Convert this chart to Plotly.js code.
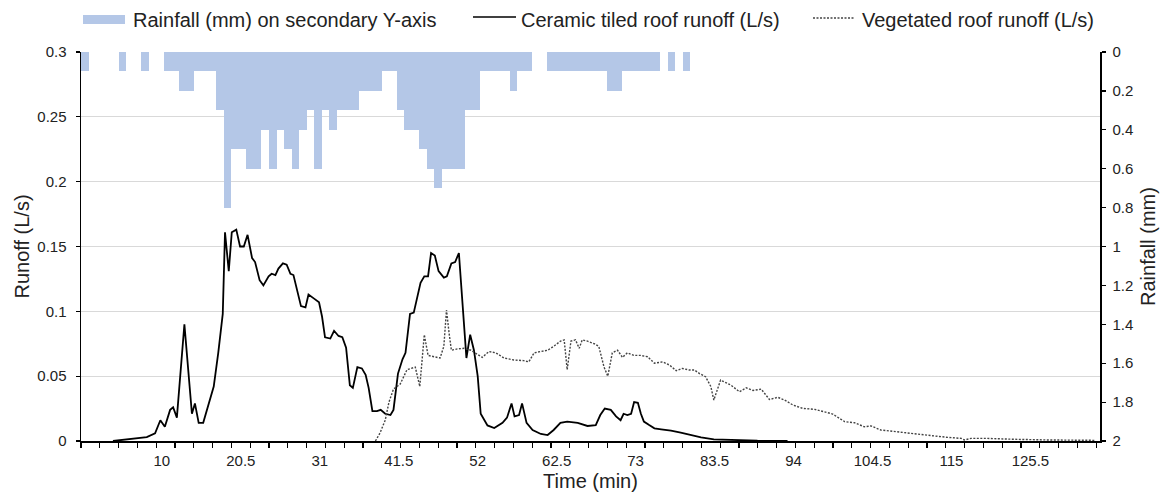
<!DOCTYPE html>
<html>
<head>
<meta charset="utf-8">
<script src="https://cdn.plot.ly/plotly-3.0.1.min.js"></script>
<style>
html,body{margin:0;padding:0;background:#fff;}
#chart{width:1167px;height:492px;}
</style>
</head>
<body>
<div id="chart"></div>
<script>
// Rainfall per minute (mm), minute index 0..80
var rainMinute = [];
for (var i = 0; i <= 80; i++) rainMinute.push(i);
var rainMm = [0.1,0,0,0,0,0.1,0,0,0.1,0,
              0,0.1,0.1,0.2,0.2,0.1,0.1,0.1,0.3,0.8,
              0.5,0.5,0.6,0.6,0.4,0.6,0.4,0.5,0.6,0.4,
              0.3,0.6,0.3,0.4,0.3,0.3,0.3,0.2,0.2,0.2,
              0.1,0.1,0.3,0.4,0.4,0.5,0.6,0.7,0.6,0.6,
              0.6,0.3,0.3,0.1,0.1,0.1,0.1,0.2,0.1,0.1,
              0,0,0.1,0.1,0.1,0.1,0.1,0.1,0.1,0.1,
              0.2,0.2,0.1,0.1,0.1,0.1,0.1,0,0.1,0,
              0.1];

// Ceramic tiled roof runoff (L/s)
var ceramicTime = [3.5,5.3,7.0,8.0,9.1,9.8,10.4,11.1,11.5,12.0,13.0,14.0,14.4,14.9,15.5,16.2,16.9,17.5,18.1,18.4,18.9,19.3,19.9,20.4,20.9,21.4,22.0,22.4,23.0,23.5,24.2,24.6,25.1,25.5,26.1,26.6,27.1,27.5,28.0,28.5,29.1,29.5,30.2,30.9,31.3,31.7,32.4,32.9,33.5,34.0,34.5,35.0,35.4,36.0,36.6,37.1,37.5,38.0,38.6,39.1,39.7,40.4,40.8,41.4,42.0,42.4,43.0,43.5,44.4,44.9,45.4,45.8,46.3,46.8,47.5,47.9,48.5,49.0,49.5,49.9,50.5,51.0,51.5,52.0,52.4,53.3,54.2,55.3,55.9,56.5,56.9,57.5,57.9,58.5,59.3,60.4,61.3,62.1,63.0,63.9,65.3,66.6,67.7,68.3,68.9,69.7,70.4,71.0,71.4,71.9,72.4,72.8,73.3,73.7,74.1,74.8,75.5,76.4,77.7,79.0,80.3,81.7,83.4,85.7,89.2,93.2];
var ceramicRunoff = [0,0.001,0.002,0.003,0.006,0.016,0.011,0.024,0.026,0.018,0.090,0.021,0.029,0.014,0.014,0.029,0.042,0.068,0.098,0.161,0.131,0.161,0.163,0.150,0.150,0.159,0.141,0.138,0.124,0.120,0.127,0.129,0.128,0.133,0.137,0.136,0.129,0.128,0.116,0.104,0.103,0.113,0.110,0.107,0.096,0.080,0.079,0.085,0.081,0.080,0.072,0.043,0.041,0.057,0.056,0.051,0.041,0.023,0.023,0.024,0.021,0.020,0.024,0.052,0.063,0.068,0.098,0.099,0.122,0.127,0.127,0.145,0.143,0.131,0.126,0.127,0.137,0.138,0.145,0.114,0.064,0.082,0.070,0.050,0.021,0.012,0.010,0.014,0.018,0.029,0.019,0.020,0.029,0.014,0.0085,0.0054,0.0046,0.0085,0.014,0.015,0.014,0.0116,0.0123,0.020,0.025,0.024,0.019,0.016,0.021,0.020,0.021,0.030,0.0295,0.021,0.015,0.0123,0.0098,0.009,0.008,0.0064,0.0046,0.0028,0.0013,0.0008,0.0002,0];

// Vegetated roof runoff (L/s)
var vegTime = [38.4,39.0,39.7,40.2,40.8,41.7,42.6,43.7,44.3,44.9,45.4,46.2,47.0,47.5,47.85,48.2,48.5,49.3,50.2,51.1,51.7,52.6,53.5,54.4,55.5,56.8,58.1,58.8,59.5,60.4,61.3,62.1,63.0,63.5,63.9,64.4,65.0,65.5,65.9,66.6,67.5,68.1,68.8,69.3,69.9,70.6,71.25,71.9,72.8,73.7,74.6,75.5,76.6,77.5,78.4,79.2,80.1,80.8,81.5,82.3,83.0,83.4,84.3,85.7,86.8,87.7,88.6,89.7,90.8,91.9,92.8,93.9,95.2,96.8,98.1,99.2,100.8,102.1,103.4,104.3,105.6,107.4,109.2,111.0,112.7,114.5,116.3,116.7,117.6,119.8,121.5,123.4,127.8,134.0];
var vegRunoff = [0,0.006,0.016,0.030,0.040,0.044,0.055,0.057,0.042,0.082,0.066,0.065,0.064,0.073,0.101,0.083,0.070,0.071,0.0715,0.070,0.068,0.0645,0.069,0.068,0.064,0.0625,0.062,0.061,0.068,0.069,0.070,0.073,0.077,0.078,0.055,0.077,0.078,0.0715,0.078,0.077,0.075,0.073,0.057,0.050,0.068,0.070,0.0645,0.068,0.066,0.066,0.065,0.060,0.061,0.0586,0.0542,0.056,0.0548,0.0548,0.052,0.0496,0.042,0.0316,0.047,0.043,0.038,0.041,0.039,0.040,0.032,0.0337,0.0316,0.0278,0.0252,0.0244,0.0226,0.0208,0.0149,0.0141,0.011,0.0116,0.0085,0.0072,0.0059,0.0046,0.0039,0.0028,0.002,0.0008,0.002,0.002,0.0015,0.0013,0.0008,0.0005];

var timeTickVals = [10,20.5,31,41.5,52,62.5,73,83.5,94,104.5,115,125.5];
var timeTickText = ['10','20.5','31','41.5','52','62.5','73','83.5','94','104.5','115','125.5'];

var legendNames = ['Rainfall (mm) on secondary Y-axis','Ceramic tiled roof runoff (L/s)','Vegetated roof runoff (L/s)'];

var FONT = 'Arial, "Liberation Sans", sans-serif';
var RAIN_COLOR = '#b4c7e7';
var VEG_COLOR = '#444444';
var VEG_DASH = '2px,1.5px';

// plot geometry (pixels)
var W = 1167, H = 492, L = 81, R = 67, T = 52, B = 51;
var pw = W - L - R, ph = H - T - B;
function px2x(px){ return (px - L) / pw; }
function py2y(py){ return (H - B - py) / ph; }

var traces = [
  {type:'bar', x: rainMinute, y: rainMm, yaxis:'y2', width:1, offset:-0.75,
   marker:{color:RAIN_COLOR, line:{width:0}}, name:legendNames[0], showlegend:false, hoverinfo:'skip'},
  {type:'scatter', mode:'lines', x: ceramicTime, y: ceramicRunoff,
   line:{color:'#000', width:1.8}, name:legendNames[1], showlegend:false},
  {type:'scatter', mode:'lines', x: vegTime, y: vegRunoff,
   line:{color:VEG_COLOR, width:1.4, dash:VEG_DASH}, name:legendNames[2], showlegend:false}
];

var shapes = [
  {type:'rect', xref:'paper', yref:'paper', x0:px2x(83), x1:px2x(125), y0:py2y(24), y1:py2y(15),
   fillcolor:RAIN_COLOR, line:{width:0}},
  {type:'line', xref:'paper', yref:'paper', x0:px2x(473), x1:px2x(516), y0:py2y(17), y1:py2y(17),
   line:{color:'#000', width:1.5}},
  {type:'line', xref:'paper', yref:'paper', x0:px2x(813), x1:px2x(855), y0:py2y(18), y1:py2y(18),
   line:{color:VEG_COLOR, width:1.4, dash:VEG_DASH}}
];
var annotations = [
  {xref:'paper', yref:'paper', x:px2x(131), y:py2y(20), text:legendNames[0], showarrow:false, xanchor:'left', yanchor:'middle', font:{family:FONT, size:20, color:'#222'}},
  {xref:'paper', yref:'paper', x:px2x(519), y:py2y(20), text:legendNames[1], showarrow:false, xanchor:'left', yanchor:'middle', font:{family:FONT, size:20, color:'#222'}},
  {xref:'paper', yref:'paper', x:px2x(860), y:py2y(20), text:legendNames[2], showarrow:false, xanchor:'left', yanchor:'middle', font:{family:FONT, size:20, color:'#222'}}
];

var layout = {
  width: W, height: H,
  margin:{l:L, r:R, t:T, b:B, pad:0},
  paper_bgcolor:'#fff', plot_bgcolor:'#fff',
  font:{family:FONT, color:'#222', size:15},
  showlegend:false,
  bargap:0,
  xaxis:{
    range:[-0.75, 134.75],
    tickmode:'array', tickvals:timeTickVals, ticktext:timeTickText,
    ticks:'', showgrid:false, zeroline:false,
    showline:true, linecolor:'#000', linewidth:1.5,
    tickfont:{size:15, color:'#222'}, ticklabelstandoff:5,
    minor:{tickmode:'linear', tick0:-0.75, dtick:2.5, ticks:'outside', ticklen:5, tickwidth:1.2, tickcolor:'#000', showgrid:false},
    title:{text:'Time (min)', font:{size:20, color:'#222'}, standoff:6}
  },
  yaxis:{
    range:[0, 0.3], dtick:0.05, tick0:0,
    showgrid:true, gridcolor:'#d9d9d9', gridwidth:1,
    zeroline:false, showline:true, linecolor:'#000', linewidth:1.5,
    ticks:'outside', ticklen:4, tickcolor:'#000', tickwidth:1.2,
    tickfont:{size:15, color:'#222'}, ticklabelstandoff:6,
    title:{text:'Runoff (L/s)', font:{size:20, color:'#222'}, standoff:2}
  },
  yaxis2:{
    overlaying:'y', side:'right',
    range:[2, 0], dtick:0.2, tick0:0,
    showgrid:false, zeroline:false, showline:true, linecolor:'#000', linewidth:1.5,
    ticks:'outside', ticklen:4, tickcolor:'#000', tickwidth:1.2,
    tickfont:{size:15, color:'#222'}, ticklabelstandoff:4,
    title:{text:'Rainfall (mm)', font:{size:20, color:'#222'}, standoff:8}
  },
  shapes: shapes,
  annotations: annotations
};

Plotly.newPlot('chart', traces, layout, {displayModeBar:false, staticPlot:true});
</script>
</body>
</html>
